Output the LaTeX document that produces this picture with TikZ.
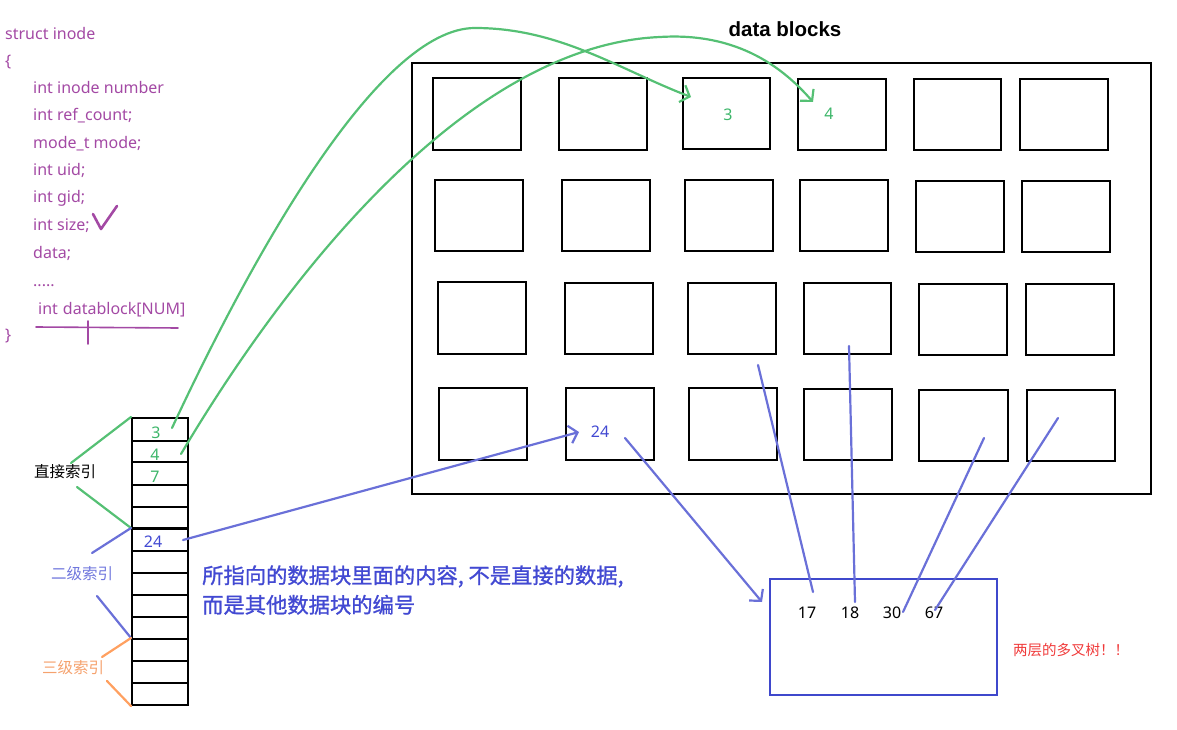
\documentclass[tikz,border=0pt]{standalone}
\usepackage{fontspec}
\setmainfont{Noto Sans}
\newfontfamily\cjk{Noto Sans CJK SC}
\newfontfamily\cjkb[FakeBold=1.2]{Noto Sans CJK SC}
\newfontfamily\titlefont{Liberation Sans}
\usetikzlibrary{arrows.meta}
\definecolor{ipurple}{HTML}{A349A4}
\definecolor{pgreen}{HTML}{55C074}
\definecolor{tgreen}{HTML}{3DB66A}
\definecolor{pblue}{HTML}{6A70D8}
\definecolor{bblue}{HTML}{3F48CC}
\definecolor{tblue}{HTML}{4249D2}
\definecolor{lblue}{HTML}{7077DD}
\definecolor{porange}{HTML}{FFA060}
\definecolor{torange}{HTML}{F5A26E}
\definecolor{tred}{HTML}{F03A3A}
\newcommand\mybox[6][blkst]{\node[#1, minimum width={#5-#3}, minimum height={#6-#4}] (#2) at ({(#3+#5)/2},{(#4+#6)/2}) {};}
\begin{document}
\begin{tikzpicture}[x=1pt,y=-1pt,
  blkst/.style={draw=black, line width=2pt, inner sep=0pt},
  cellst/.style={draw=black, line width=2pt, inner sep=0pt},
  code/.style={anchor=base west, inner sep=0pt, text=ipurple, font=\fontsize{16}{18}\selectfont},
  pen/.style={line width=2.2pt, line cap=round, line join=round},
  gpen/.style={pen, draw=pgreen},
  bpen/.style={pen, draw=pblue},
  opn/.style={pen, draw=porange},
  barb/.style={-{Straight Barb[length=8pt,width=18pt,line width=2.2pt]}},
  num/.style={inner sep=0pt, font=\fontsize{16}{18}\selectfont},
  cjklabel/.style={inner sep=0pt, font=\cjk\fontsize{15.5}{18}\selectfont}
]
\useasboundingbox (0,0) rectangle (1177,730);

% ---- struct text ----
\node[code] (l1) at (5,39.5) {struct inode};
\node[code] (l2) at (5,66.5) {\{};
\node[code] (l3) at (33,94) {int inode number};
\node[code] (l4) at (33,121) {int ref\_count;};
\node[code] (l5) at (33,148.5) {mode\_t mode;};
\node[code] (l6) at (33,176) {int uid;};
\node[code] (l7) at (33,203) {int gid;};
\node[code] (l8) at (33,230.5) {int size;};
\node[code] (l9) at (33,258) {data;};
\node[code] (l10) at (33,286) {.....};
\node[code] (l11) at (38,314) {int\hspace{5pt}datablock[NUM]};
\node[code] (l12) at (5,340) {\}};
\draw[pen, draw=ipurple, line width=2.6pt] (93,214) -- (101,229) -- (117,206);
\draw[pen, draw=ipurple, line width=1.6pt] (36,327) -- (178,328);
\draw[pen, draw=ipurple, line width=1.6pt] (88,321) -- (88,344);

% ---- title and frame ----
\node[inner sep=0pt, font=\titlefont\bfseries\fontsize{20.5}{24}\selectfont] (title) at (785,29) {data blocks};
\mybox{frame}{412}{63}{1151}{494}

% ---- data blocks ----
\mybox{b11}{433}{78}{521}{150}
\mybox{b12}{559}{78}{647}{150}
\mybox{b13}{683}{78}{770}{149}
\mybox{b14}{798}{79}{886}{150}
\mybox{b15}{914}{79}{1001}{150}
\mybox{b16}{1020}{79}{1108}{150}
\mybox{b21}{435}{180}{523}{251}
\mybox{b22}{562}{180}{650}{251}
\mybox{b23}{685}{180}{773}{251}
\mybox{b24}{800}{180}{888}{251}
\mybox{b25}{916}{181}{1004}{252}
\mybox{b26}{1022}{181}{1110}{252}
\mybox{b31}{438}{282}{526}{354}
\mybox{b32}{565}{283}{653}{354}
\mybox{b33}{688}{283}{776}{354}
\mybox{b34}{804}{283}{891}{354}
\mybox{b35}{919}{284}{1007}{355}
\mybox{b36}{1026}{284}{1114}{355}
\mybox{b41}{439}{388}{527}{460}
\mybox{b42}{566}{388}{654}{460}
\mybox{b43}{689}{388}{777}{460}
\mybox{b44}{804}{389}{892}{460}
\mybox{b45}{919}{390}{1008}{461}
\mybox{b46}{1027}{390}{1115}{461}
\node[num, text=tgreen] (n3) at (728,115) {3};
\node[num, text=tgreen] (n4) at (829,114) {4};
\node[num, text=tblue] (n24) at (600,432) {24};

% ---- index table ----
\mybox[cellst]{c1}{132}{418}{188}{441}
\mybox[cellst]{c2}{132}{441}{188}{462}
\mybox[cellst]{c3}{132}{462}{188}{485}
\mybox[cellst]{c4}{132}{485}{188}{507}
\mybox[cellst]{c5}{132}{507}{188}{529}
\mybox[cellst]{c6}{132}{529}{188}{551}
\mybox[cellst]{c7}{132}{551}{188}{573}
\mybox[cellst]{c8}{132}{573}{188}{595}
\mybox[cellst]{c9}{132}{595}{188}{617}
\mybox[cellst]{c10}{132}{617}{188}{639}
\mybox[cellst]{c11}{132}{639}{188}{661}
\mybox[cellst]{c12}{132}{661}{188}{683}
\mybox[cellst]{c13}{132}{683}{188}{705}
\draw[line width=3pt] (c6.north west) -- (c6.north east);
\node[num, text=tgreen] (v3) at (156,433) {3};
\node[num, text=tgreen] (v4) at (155,455) {4};
\node[num, text=tgreen] (v7) at (155,477) {7};
\node[num, text=tblue] (v24) at (153,542) {24};

% ---- index labels ----
\node[cjklabel, text=black] (zj) at (65,472) {直接索引};
\node[cjklabel, text=lblue] (ej) at (82,574) {二级索引};
\node[cjklabel, text=torange] (sj) at (73,668) {三级索引};
\coordinate (zja) at (71,463);
\coordinate (zjb) at (77,487);
\coordinate (eja) at (92,553);
\coordinate (ejb) at (97,596);
\coordinate (sja) at (102,657);
\coordinate (sjb) at (107,681);
\draw[gpen] (zja) -- (c1.north west);
\draw[gpen] (zjb) -- (c6.north west);
\draw[bpen] (eja) -- (c6.north west);
\draw[bpen] (ejb) -- (c11.north west);
\draw[opn] (sja) -- (c11.north west);
\draw[opn] (sjb) -- (c13.south west);

% ---- green pointers ----
\coordinate (s3) at (172,428);
\coordinate (s4) at (181,454);
\coordinate (t3) at (691,97);
\coordinate (t4) at (813,102);
\draw[gpen, barb] (s3) .. controls (255,250) and (380,28) .. (475,28)
  .. controls (560,28) and (620,70) .. (t3);
\draw[gpen, barb] (s4) .. controls (290,270) and (470,45) .. (660,37)
  .. controls (740,32) and (785,70) .. (t4);

% ---- blue pointers ----
\coordinate (s24) at (183,540);
\coordinate (t24) at (579,432);
\draw[bpen, barb] (s24) -- (t24);
\coordinate (s24b) at (625,438);
\coordinate (tbox) at (762,602);
\draw[bpen, barb] (s24b) -- (tbox);

% ---- index block ----
\mybox[draw=bblue, line width=2.2pt, inner sep=0pt]{ib}{770}{579}{997}{695}
\node[num] (k17) at (807,613) {17};
\node[num] (k18) at (850,613) {18};
\node[num] (k30) at (892,613) {30};
\node[num] (k67) at (934,613) {67};
\coordinate (p17) at (758,365);
\coordinate (p18) at (849,346);
\coordinate (p30) at (984,438);
\coordinate (p67) at (1058,418);
\coordinate (e17) at (813,592);
\coordinate (e18) at (855,602);
\coordinate (e30) at (903,612);
\coordinate (e67) at (935,610);
\draw[bpen] (p17) -- (e17);
\draw[bpen] (p18) -- (e18);
\draw[bpen] (p30) -- (e30);
\draw[bpen] (p67) -- (e67);

% ---- notes ----
\node[inner sep=0pt, anchor=west, text=tblue, font=\cjkb\fontsize{21.3}{29.5}\selectfont, align=left] (note) at (202,590)
  {所指向的数据块里面的内容, 不是直接的数据,\\而是其他数据块的编号};
\node[inner sep=0pt, text=tred, font=\cjk\fontsize{14.5}{17}\selectfont] (tree) at (1071,650) {两层的多叉树！！};
\end{tikzpicture}
\end{document}
